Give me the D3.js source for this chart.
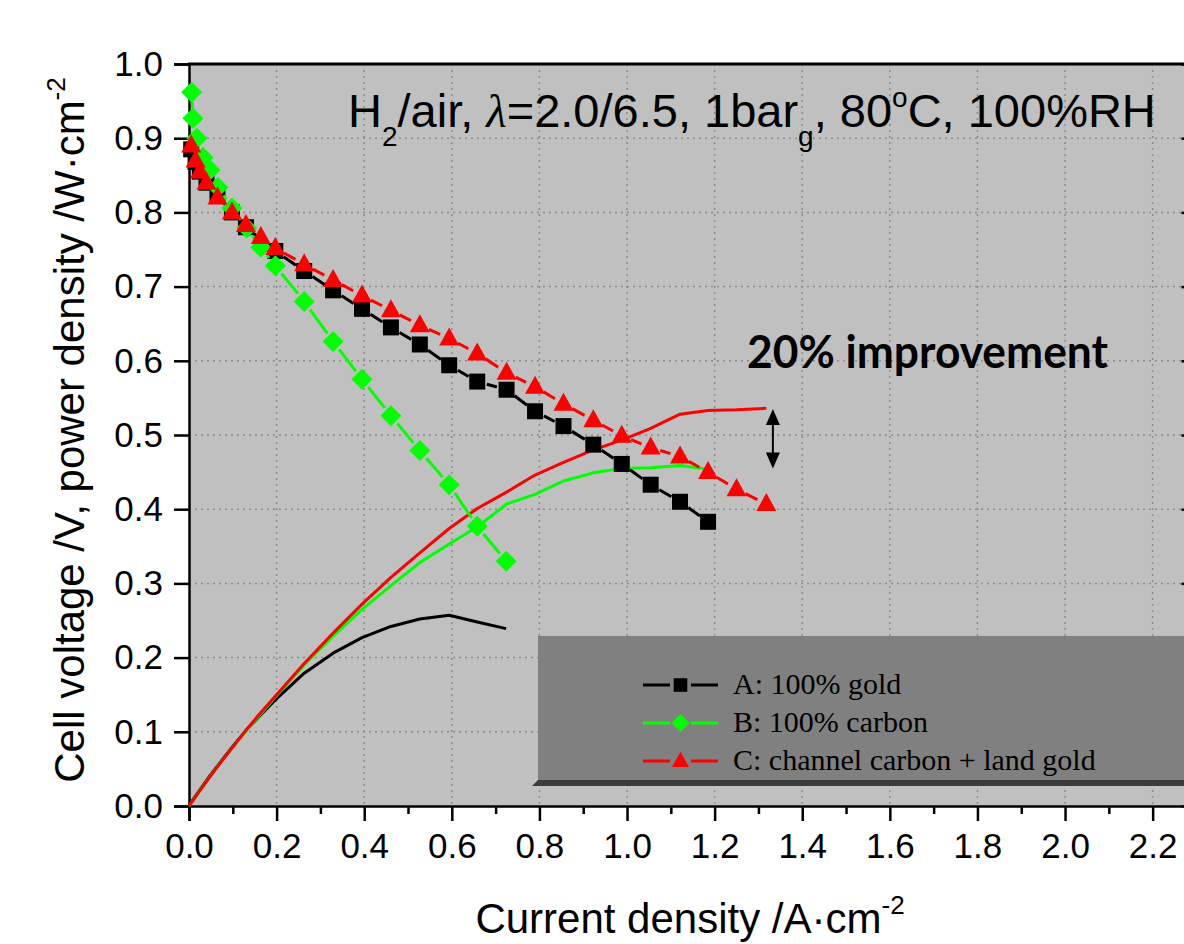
<!DOCTYPE html>
<html>
<head>
<meta charset="utf-8">
<script src="https://cdn.jsdelivr.net/npm/d3@7/dist/d3.min.js"></script>
<style>
  html, body { margin: 0; padding: 0; background: #ffffff; }
  svg { display: block; }
</style>
</head>
<body>
<svg id="chart" width="1184" height="944"></svg>
<script>
// ---- data ----
// A: 100% gold (black squares)
var currentA = [0.005, 0.015, 0.025, 0.04, 0.065, 0.098, 0.13, 0.197, 0.263, 0.329, 0.395, 0.461, 0.527, 0.594, 0.658, 0.725, 0.790, 0.855, 0.923, 0.988, 1.054, 1.121, 1.185];
var voltageA = [0.885, 0.868, 0.855, 0.84, 0.823, 0.800, 0.780, 0.748, 0.721, 0.695, 0.670, 0.645, 0.622, 0.594, 0.572, 0.561, 0.532, 0.512, 0.487, 0.461, 0.433, 0.410, 0.383];
// B: 100% carbon (green diamonds)
var currentB = [0.006, 0.009, 0.018, 0.032, 0.048, 0.066, 0.098, 0.132, 0.164, 0.197, 0.263, 0.329, 0.395, 0.461, 0.527, 0.594, 0.658, 0.724];
var voltageB = [0.962, 0.927, 0.900, 0.874, 0.857, 0.834, 0.806, 0.779, 0.753, 0.728, 0.680, 0.626, 0.575, 0.526, 0.479, 0.433, 0.377, 0.330];
// C: channel carbon + land gold (red triangles)
var currentC = [0.005, 0.015, 0.025, 0.04, 0.065, 0.098, 0.13, 0.164, 0.197, 0.263, 0.329, 0.395, 0.461, 0.527, 0.594, 0.658, 0.725, 0.790, 0.855, 0.923, 0.988, 1.054, 1.121, 1.185, 1.250, 1.318];
var voltageC = [0.890, 0.870, 0.855, 0.840, 0.820, 0.800, 0.783, 0.767, 0.752, 0.730, 0.709, 0.688, 0.668, 0.648, 0.630, 0.610, 0.584, 0.565, 0.542, 0.520, 0.499, 0.483, 0.471, 0.450, 0.427, 0.407];

// power density curves, as they are drawn (plain lines, no markers)
var powerBlackCurrent = [0, 0.006, 0.018, 0.048, 0.098, 0.132, 0.164, 0.197, 0.263, 0.329, 0.395, 0.461, 0.527, 0.594, 0.658, 0.724];
var powerBlackDensity = [0, 0.006, 0.016, 0.041, 0.079, 0.103, 0.123, 0.143, 0.179, 0.206, 0.227, 0.242, 0.252, 0.257, 0.248, 0.239];
var powerGreenCurrent = [0, 0.005, 0.025, 0.065, 0.098, 0.13, 0.197, 0.263, 0.329, 0.395, 0.461, 0.527, 0.594, 0.658, 0.725, 0.790, 0.855, 0.923, 0.988, 1.054, 1.121, 1.185];
var powerGreenDensity = [0, 0.004, 0.021, 0.053, 0.078, 0.101, 0.147, 0.190, 0.229, 0.265, 0.297, 0.328, 0.353, 0.376, 0.407, 0.420, 0.438, 0.449, 0.455, 0.456, 0.459, 0.454];
var powerRedCurrent = [0, 0.005, 0.025, 0.065, 0.098, 0.13, 0.164, 0.197, 0.263, 0.329, 0.395, 0.461, 0.527, 0.594, 0.658, 0.725, 0.790, 0.855, 0.923, 0.988, 1.054, 1.121, 1.185, 1.250, 1.318];
var powerRedDensity = [0, 0.004, 0.021, 0.053, 0.078, 0.102, 0.126, 0.148, 0.192, 0.233, 0.272, 0.308, 0.341, 0.374, 0.401, 0.423, 0.446, 0.463, 0.480, 0.493, 0.509, 0.528, 0.533, 0.534, 0.536];

// ticks and labels
var xTicks = [0, 0.2, 0.4, 0.6, 0.8, 1.0, 1.2, 1.4, 1.6, 1.8, 2.0, 2.2];
var xTickLabels = ["0.0", "0.2", "0.4", "0.6", "0.8", "1.0", "1.2", "1.4", "1.6", "1.8", "2.0", "2.2"];
var xMinorTicks = [0.1, 0.3, 0.5, 0.7, 0.9, 1.1, 1.3, 1.5, 1.7, 1.9, 2.1];
var yTicks = [0, 0.1, 0.2, 0.3, 0.4, 0.5, 0.6, 0.7, 0.8, 0.9, 1.0];
var yTickLabels = ["0.0", "0.1", "0.2", "0.3", "0.4", "0.5", "0.6", "0.7", "0.8", "0.9", "1.0"];
var legendLabels = ["A: 100% gold", "B: 100% carbon", "C: channel carbon + land gold"];

// improvement arrow, in data units
var arrowCurrent = 1.333;
var arrowPower = [0.535, 0.455];

// ---- setup ----
var sans = "'Liberation Sans', Arial, sans-serif";
var serif = "'Liberation Serif', 'Times New Roman', serif";
var colors = { A: "#000000", B: "#00ff00", C: "#ff0000" };

var svg = d3.select("#chart");
var x = d3.scaleLinear().domain([0, 2.275]).range([189, 1185.5]);
var y = d3.scaleLinear().domain([0, 1]).range([806, 64]);

var zip = function(xs, ys) {
  return xs.map(function(d, i) { return [d, ys[i]]; });
};

/** marker outline centred on 0,0 */
var markerPath = function(shape) {
  if (shape === "square") return "M-8,-8H8V8H-8Z";
  if (shape === "diamond") return "M0,-10.5L10.5,0L0,10.5L-10.5,0Z";
  return "M0,-11L10,7L-10,7Z"; // triangle
};

// plot background
svg.append("rect")
  .attr("x", x(0)).attr("y", y(1))
  .attr("width", x(2.275) - x(0)).attr("height", y(0) - y(1))
  .attr("fill", "#c0c0c0");

// dotted grid
var grid = svg.append("g").attr("stroke", "#8c8c8c").attr("stroke-width", 1.5).attr("stroke-dasharray", "2,4");
grid.selectAll("line.v").data(xTicks.slice(1)).enter().append("line")
  .attr("x1", function(d) { return x(d); }).attr("x2", function(d) { return x(d); })
  .attr("y1", y(1)).attr("y2", y(0));
grid.selectAll("line.h").data(yTicks.slice(1, -1)).enter().append("line")
  .attr("x1", x(0)).attr("x2", x(2.275))
  .attr("y1", function(d) { return y(d); }).attr("y2", function(d) { return y(d); });

// axes
var xAxis = svg.append("g").attr("transform", "translate(0," + y(0) + ")")
  .call(d3.axisBottom(x).tickValues(xTicks).tickSize(15).tickPadding(12)
    .tickFormat(function(d, i) { return xTickLabels[i]; }));
var xMinor = svg.append("g").attr("transform", "translate(0," + y(0) + ")")
  .call(d3.axisBottom(x).tickValues(xMinorTicks).tickSize(8).tickFormat(""));
var yAxis = svg.append("g").attr("transform", "translate(" + x(0) + ",0)")
  .call(d3.axisLeft(y).tickValues(yTicks).tickSize(15).tickPadding(11)
    .tickFormat(function(d, i) { return yTickLabels[i]; }));
var rightAxis = svg.append("g").attr("transform", "translate(" + (x(2.275) + 2) + ",0)")
  .call(d3.axisLeft(y).tickValues(yTicks).tickSize(0).tickFormat(""));
rightAxis.selectAll(".tick line").attr("x1", 0).attr("x2", -6);

[xAxis, xMinor, yAxis, rightAxis].forEach(function(ax) {
  ax.select(".domain").attr("stroke", "#000").attr("stroke-width", 2.5);
  ax.selectAll(".tick line").attr("stroke", "#000").attr("stroke-width", 2.5);
  ax.selectAll(".tick text").attr("fill", "#000")
    .style("font-family", sans).style("font-size", "35px");
});
xMinor.select(".domain").remove();
rightAxis.select(".domain").remove();

// top frame
svg.append("line")
  .attr("x1", x(0) - 1).attr("x2", 1184).attr("y1", y(1)).attr("y2", y(1))
  .attr("stroke", "#000").attr("stroke-width", 3);

// ---- power density lines ----
var line = d3.line().x(function(d) { return x(d[0]); }).y(function(d) { return y(d[1]); });
var powerCurves = [
  { pts: zip(powerBlackCurrent, powerBlackDensity), color: colors.A },
  { pts: zip(powerGreenCurrent, powerGreenDensity), color: colors.B },
  { pts: zip(powerRedCurrent, powerRedDensity), color: colors.C }
];
svg.selectAll("path.power").data(powerCurves).enter().append("path")
  .attr("class", "power")
  .attr("d", function(d) { return line(d.pts); })
  .attr("fill", "none")
  .attr("stroke", function(d) { return d.color; })
  .attr("stroke-width", 3)
  .attr("stroke-linejoin", "round");

// ---- polarization curves: segments stop short of the markers, Origin style ----
var series = [
  { pts: zip(currentA, voltageA), color: colors.A, shape: "square" },
  { pts: zip(currentB, voltageB), color: colors.B, shape: "diamond" },
  { pts: zip(currentC, voltageC), color: colors.C, shape: "triangle" }
];

series.forEach(function(s) {
  var g = svg.append("g");
  var gap = 10;
  var segs = [];
  for (var i = 1; i < s.pts.length; i++) {
    var x0 = x(s.pts[i - 1][0]), y0 = y(s.pts[i - 1][1]);
    var x1 = x(s.pts[i][0]), y1 = y(s.pts[i][1]);
    var len = Math.hypot(x1 - x0, y1 - y0);
    if (len > 2 * gap + 2) {
      var ux = (x1 - x0) / len, uy = (y1 - y0) / len;
      segs.push([x0 + ux * gap, y0 + uy * gap, x1 - ux * gap, y1 - uy * gap]);
    }
  }
  g.selectAll("line").data(segs).enter().append("line")
    .attr("x1", function(d) { return d[0]; }).attr("y1", function(d) { return d[1]; })
    .attr("x2", function(d) { return d[2]; }).attr("y2", function(d) { return d[3]; })
    .attr("stroke", s.color).attr("stroke-width", 3);
  g.selectAll("path").data(s.pts).enter().append("path")
    .attr("transform", function(d) { return "translate(" + x(d[0]) + "," + y(d[1]) + ")"; })
    .attr("d", markerPath(s.shape))
    .attr("fill", s.color);
});

// ---- annotations ----
var title = svg.append("text")
  .attr("x", 348).attr("y", 127)
  .style("font-family", sans).style("font-size", "47px").attr("fill", "#000");
title.append("tspan").text("H");
title.append("tspan").attr("dy", 19).style("font-size", "28px").text("2");
title.append("tspan").attr("dy", -19).text("/air, ");
title.append("tspan").style("font-family", serif).style("font-style", "italic").text("λ");
title.append("tspan").text("=2.0/6.5, 1bar");
title.append("tspan").attr("dy", 19).style("font-size", "28px").text("g");
title.append("tspan").attr("dy", -19).text(", 80");
title.append("tspan").attr("dy", -20).style("font-size", "28px").text("o");
title.append("tspan").attr("dy", 20).text("C, 100%RH");

svg.append("text")
  .attr("x", 747).attr("y", 368)
  .attr("textLength", 361).attr("lengthAdjust", "spacingAndGlyphs")
  .style("font-family", "Lato, 'Open Sans', sans-serif").style("font-weight", "bold").style("font-size", "45px")
  .attr("fill", "#000")
  .text("20% improvement");

// double headed arrow
var ax = x(arrowCurrent), ayTop = y(arrowPower[0]), ayBot = y(arrowPower[1]);
svg.append("line")
  .attr("x1", ax).attr("x2", ax).attr("y1", ayTop + 10).attr("y2", ayBot - 10)
  .attr("stroke", "#000").attr("stroke-width", 2);
svg.append("path")
  .attr("d", "M" + ax + "," + ayTop + "l-7,16h14z" + "M" + ax + "," + ayBot + "l-7,-16h14z")
  .attr("fill", "#000");

// ---- legend ----
var legend = svg.append("g");
legend.append("path")
  .attr("d", "M538,780L532,786H1190V780Z")
  .attr("fill", "#3c3c3c");
legend.append("rect")
  .attr("x", 538).attr("y", 636).attr("width", 660).attr("height", 144)
  .attr("fill", "#808080");

var entries = legend.selectAll("g.entry").data(series).enter().append("g")
  .attr("class", "entry")
  .attr("transform", function(d, i) { return "translate(0," + (685 + i * 38) + ")"; });
entries.append("line")
  .attr("x1", 643).attr("x2", 670).attr("y1", 0).attr("y2", 0)
  .attr("stroke", function(d) { return d.color; }).attr("stroke-width", 3);
entries.append("line")
  .attr("x1", 691).attr("x2", 718).attr("y1", 0).attr("y2", 0)
  .attr("stroke", function(d) { return d.color; }).attr("stroke-width", 3);
entries.append("path")
  .attr("transform", "translate(680.5,0) scale(0.85)")
  .attr("d", function(d) { return markerPath(d.shape); })
  .attr("fill", function(d) { return d.color; });
entries.append("text")
  .attr("x", 733).attr("y", 9)
  .style("font-family", serif).style("font-size", "30px").attr("fill", "#000")
  .text(function(d, i) { return legendLabels[i]; });

// ---- axis titles ----
var xTitle = svg.append("text")
  .attr("x", 690).attr("y", 933).attr("text-anchor", "middle")
  .style("font-family", sans).style("font-size", "42px").attr("fill", "#000");
xTitle.append("tspan").text("Current density /A·cm");
xTitle.append("tspan").attr("dy", -19).style("font-size", "26px").text("-2");

var yTitle = svg.append("text")
  .attr("transform", "translate(84,430) rotate(-90)").attr("text-anchor", "middle")
  .style("font-family", sans).style("font-size", "42px").attr("fill", "#000");
yTitle.append("tspan").text("Cell voltage /V, power density /W·cm");
yTitle.append("tspan").attr("dy", -19).style("font-size", "26px").text("-2");
</script>
</body>
</html>
